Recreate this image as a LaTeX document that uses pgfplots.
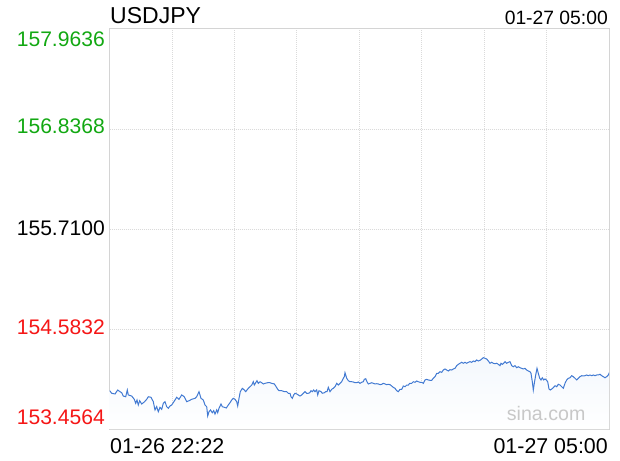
\documentclass[border=0pt]{standalone}
\usepackage{pgfplots}
\usepackage{pgfplotstable}
\usepackage{fontspec}
\setmainfont{Liberation Sans}
\pgfplotsset{compat=1.18}
\definecolor{linec}{RGB}{66,122,210}
\definecolor{fillc}{RGB}{244,248,253}
\definecolor{gridc}{RGB}{218,218,218}
\definecolor{framec}{RGB}{212,212,212}
\definecolor{midc}{RGB}{170,170,170}
\definecolor{upc}{RGB}{18,168,18}
\definecolor{downc}{RGB}{245,22,22}
\definecolor{wmc}{RGB}{200,200,200}
\pgfplotstableread{
x y
0.2 153.888
2.2 153.859
5.5 153.851
8.2 153.896
10.5 153.877
12.2 153.865
13.8 153.828
16.2 153.820
17.8 153.896
18.8 153.840
22.2 153.828
24.8 153.791
26.2 153.746
27.5 153.783
28.8 153.727
30.2 153.775
32.2 153.738
34.8 153.761
37.2 153.791
38.8 153.820
41.5 153.814
43.8 153.764
45.5 153.671
47.2 153.708
48.8 153.651
50.5 153.701
52.2 153.678
53.8 153.746
55.5 153.764
57.2 153.708
58.8 153.690
60.5 153.716
62.2 153.727
65.5 153.783
67.2 153.814
69.5 153.791
72.2 153.840
74.8 153.820
77.2 153.764
79.5 153.775
82.2 153.791
85.5 153.802
87.2 153.820
89.5 153.877
91.5 153.802
93.8 153.783
95.5 153.727
97.2 153.708
98.2 153.603
99.5 153.651
101.0 153.671
102.8 153.640
104.2 153.663
105.5 153.625
107.2 153.671
108.2 153.640
109.5 153.690
111.5 153.738
112.8 153.708
114.8 153.701
116.8 153.693
118.8 153.727
120.5 153.753
122.2 153.783
123.8 153.802
125.5 153.791
127.2 153.764
128.2 153.716
129.5 153.802
130.8 153.877
132.8 153.915
134.8 153.896
136.2 153.877
138.8 153.915
140.5 153.933
142.2 153.952
143.8 153.989
144.8 153.952
146.2 153.978
147.5 154.001
148.8 153.971
150.5 153.989
152.2 153.978
153.8 153.964
155.5 153.971
158.2 153.978
160.5 153.978
162.2 153.971
164.8 153.964
166.2 153.941
168.2 153.904
169.5 153.888
172.2 153.888
174.8 153.877
177.2 153.877
178.8 153.859
180.5 153.859
181.5 153.820
182.8 153.802
184.2 153.840
185.5 153.859
187.2 153.851
188.8 153.840
190.5 153.828
192.2 153.840
193.8 153.859
195.5 153.877
197.2 153.859
198.8 153.859
200.2 153.865
201.5 153.888
202.8 153.877
204.2 153.896
205.5 153.877
207.2 153.896
208.2 153.840
209.5 153.888
211.5 153.877
212.8 153.859
214.8 153.865
216.2 153.877
217.5 153.877
218.8 153.926
220.5 153.877
222.2 153.904
223.8 153.915
225.5 153.933
227.2 153.971
228.8 153.952
230.5 153.971
232.2 153.989
233.8 154.028
234.8 154.046
235.5 154.091
236.2 154.065
237.2 154.028
238.8 154.001
240.5 153.989
242.2 153.989
243.8 153.986
245.5 153.978
247.2 153.978
248.8 153.986
250.5 153.971
252.2 153.983
253.8 153.989
254.8 154.016
256.2 154.023
257.5 153.989
258.8 153.964
260.5 153.971
262.2 153.978
263.8 153.971
265.5 153.964
267.2 153.967
268.8 153.964
270.5 153.956
272.2 153.960
273.8 153.971
275.5 153.964
277.2 153.956
278.8 153.960
280.5 153.956
282.2 153.941
283.8 153.926
285.5 153.915
287.2 153.888
288.8 153.877
290.5 153.904
292.2 153.904
293.8 153.941
295.5 153.933
297.2 153.952
298.8 153.952
300.2 153.971
302.2 153.971
303.8 153.989
305.5 153.983
307.2 153.997
308.8 153.989
310.5 153.983
312.2 153.983
313.8 153.971
315.5 154.009
317.2 154.016
318.8 154.009
320.5 154.005
322.2 154.005
323.8 154.028
325.5 154.046
327.2 154.084
328.8 154.084
330.5 154.102
332.2 154.095
333.8 154.121
335.5 154.133
337.2 154.121
338.8 154.110
340.5 154.125
342.2 154.121
343.8 154.133
345.5 154.140
347.2 154.170
348.8 154.185
350.5 154.197
352.2 154.208
353.8 154.197
355.5 154.208
357.2 154.197
358.8 154.208
360.5 154.215
362.2 154.208
363.8 154.223
365.5 154.215
367.2 154.234
368.8 154.223
370.5 154.230
372.2 154.245
373.8 154.260
375.5 154.253
377.2 154.245
378.8 154.223
380.5 154.197
382.2 154.208
383.8 154.197
385.5 154.192
387.2 154.197
388.8 154.185
390.5 154.170
391.5 154.197
392.8 154.185
394.2 154.197
395.5 154.215
397.2 154.197
398.8 154.208
400.5 154.215
402.2 154.170
403.8 154.158
405.5 154.170
407.2 154.147
408.8 154.158
410.5 154.147
412.2 154.140
413.8 154.133
415.5 154.140
417.2 154.121
418.8 154.110
420.5 154.102
421.5 154.084
422.8 153.989
423.8 153.896
424.8 153.971
426.2 154.065
427.5 154.140
428.8 154.084
430.2 154.028
431.5 154.009
432.8 154.034
434.2 154.009
435.5 154.020
436.8 154.009
438.2 153.989
439.5 153.907
440.8 153.896
442.2 153.907
443.8 153.922
445.5 153.944
447.2 153.933
448.8 153.960
450.5 153.952
452.2 153.933
453.8 153.915
455.5 153.971
457.2 154.009
458.8 154.028
460.5 154.034
462.2 154.057
463.8 154.046
465.5 154.028
467.2 154.009
468.8 154.028
470.5 154.046
472.2 154.057
473.8 154.054
475.5 154.057
477.2 154.065
478.8 154.057
480.5 154.065
482.2 154.057
483.8 154.065
485.5 154.057
487.2 154.065
488.8 154.065
490.5 154.073
492.2 154.057
493.8 154.046
495.5 154.034
497.2 154.046
498.8 154.065
499.8 154.091
}\data
\begin{document}
\begin{tikzpicture}[x=1pt,y=1pt]
\useasboundingbox (-109.5,-31) rectangle (510.5,429);
\begin{axis}[
  at={(0,0)}, anchor=south west,
  scale only axis, width=499.5pt, height=400pt,
  xmin=0, xmax=499.5, ymin=153.4564, ymax=157.9636,
  xtick={62.4375,124.875,187.3125,249.75,312.1875,374.625,437.0625},
  ytick={154.5832,156.8368},
  extra y ticks={155.71},
  extra y tick style={grid style={draw=midc, line width=0.8pt, dash pattern=on 3pt off 1.5pt}},
  xticklabels={}, yticklabels={}, extra y tick labels={},
  major tick length=0pt,
  grid=major,
  major grid style={draw=gridc, line width=0.8pt, dash pattern=on 1pt off 1pt},
  axis line style={draw=framec, line width=1pt},
]
\addplot[draw=none, top color=fillc, bottom color=white] table[x=x,y=y] {\data} -- (axis cs:499.8,153.4564) -- (axis cs:0.2,153.4564) -- cycle;
\addplot[linec, line width=1pt, no marks] table[x=x,y=y] {\data};
\end{axis}
\node[anchor=base west, inner sep=0pt, font=\fontsize{23}{27}\selectfont] at (0.5,405.7) {USDJPY};
\node[anchor=base east, inner sep=0pt, font=\fontsize{19.3}{23}\selectfont] at (498.5,404) {01-27 05:00};
\node[anchor=base west, inner sep=0pt, font=\fontsize{21.4}{25}\selectfont] at (0.5,-24.7) {01-26 22:22};
\node[anchor=base east, inner sep=0pt, font=\fontsize{21.4}{25}\selectfont] at (498.5,-24.7) {01-27 05:00};
\node[anchor=base east, inner sep=0pt, text=upc, font=\fontsize{21.1}{25}\selectfont] at (-4.5,382.3) {157.9636};
\node[anchor=base east, inner sep=0pt, text=upc, font=\fontsize{21.1}{25}\selectfont] at (-4.5,295.7) {156.8368};
\node[anchor=base east, inner sep=0pt, text=black, font=\fontsize{21.1}{25}\selectfont] at (-4.5,193.5) {155.7100};
\node[anchor=base east, inner sep=0pt, text=downc, font=\fontsize{21.1}{25}\selectfont] at (-4.5,94) {154.5832};
\node[anchor=base east, inner sep=0pt, text=downc, font=\fontsize{21.1}{25}\selectfont] at (-4.5,5) {153.4564};
\node[anchor=base west, inner sep=0pt, text=wmc, font=\fontsize{19.6}{23}\selectfont] at (397.2,9) {sina.com};
\end{tikzpicture}
\end{document}
